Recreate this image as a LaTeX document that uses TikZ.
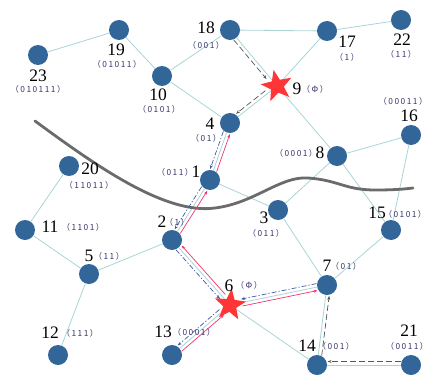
\documentclass[tikz,border=0pt]{standalone}
\usepackage{fontspec}
\setmainfont{Liberation Serif}
\newfontfamily\codefont[LetterSpace=18]{Noto Sans CJK SC}
\usetikzlibrary{shapes.geometric,calc,arrows.meta}
\definecolor{nodeblue}{HTML}{326598}
\definecolor{edgeteal}{HTML}{A9D4D6}
\definecolor{starred}{HTML}{FF3538}
\definecolor{codecol}{HTML}{35356A}
\definecolor{pinkflow}{HTML}{F5336E}
\definecolor{blueflow}{HTML}{3A5AA6}
\definecolor{grayflow}{HTML}{555555}
\tikzset{
  nd/.style={circle,fill=nodeblue,minimum size=20pt,inner sep=0pt},
  st/.style={star,star points=5,star point ratio=2.4,fill=starred,minimum size=33pt,inner sep=0pt},
  num/.style={font=\fontsize{17.5}{18}\selectfont,inner sep=0pt},
  code/.style={font=\codefont\fontsize{8.3}{9}\selectfont,text=codecol,inner sep=0pt},
  edge/.style={draw=edgeteal,line width=0.8pt},
  pinkarr/.style={draw=pinkflow,line width=0.7pt,-{Stealth[length=4pt,width=3pt]}},
  bluearr/.style={draw=blueflow,line width=0.7pt,dash pattern=on 5pt off 2pt on 1.2pt off 2pt,-{Stealth[length=4pt,width=3pt]}},
  grayarr/.style={draw=grayflow,line width=0.7pt,dash pattern=on 6pt off 3pt,-{Stealth[length=4pt,width=3pt]}},
  cut/.style={draw=black!58,line width=2.8pt,line cap=round}
}
\newcommand\flow[5]{\draw[#1,shorten <=#4,shorten >=#5] ($(#2)!3.5pt!-90:(#3)$) -- ($(#3)!3.5pt!90:(#2)$);}
\begin{document}
\begin{tikzpicture}[x=1pt,y=-1pt]
\useasboundingbox (0,0) rectangle (427,374);
% nodes
\node[nd] (n23) at (38,55) {};
\node[nd] (n19) at (119,30) {};
\node[nd] (n10) at (162,76) {};
\node[nd] (n18) at (230,30) {};
\node[nd] (n17) at (327,31) {};
\node[nd] (n22) at (401,20) {};
\node[st,rotate=12] (n9) at (277,86) {};
\node[nd] (n4) at (230,123) {};
\node[nd] (n16) at (411,135) {};
\node[nd] (n8) at (337,156) {};
\node[nd] (n20) at (69,166) {};
\node[nd] (n1) at (210,180) {};
\node[nd] (n3) at (278,210) {};
\node[nd] (n15) at (391,230) {};
\node[nd] (n11) at (25,230) {};
\node[nd] (n2) at (172,240) {};
\node[nd] (n5) at (89,274) {};
\node[nd] (n7) at (327,285) {};
\node[st,rotate=-6] (n6) at (230,305) {};
\node[nd] (n12) at (58,355) {};
\node[nd] (n13) at (172,355) {};
\node[nd] (n14) at (317,365) {};
\node[nd] (n21) at (411,365) {};
% edges
\foreach \a/\b in {n23/n19,n19/n10,n10/n18,n10/n4,n18/n17,n18/n9,n17/n22,n17/n9,n9/n4,n9/n8,n8/n16,n8/n3,n8/n15,n16/n15,n4/n1,n1/n2,n1/n3,n3/n7,n15/n7,n20/n11,n11/n5,n5/n2,n5/n12,n2/n6,n6/n7,n6/n13,n6/n14,n14/n7,n14/n21}
  \draw[edge] (\a) -- (\b);
% cut line
\draw[cut] (35,121) .. controls (95,165) and (165,215) .. (215,208)
  .. controls (255,203) and (280,176) .. (308,178)
  .. controls (338,180) and (345,190) .. (375,190)
  .. controls (395,190) and (405,189) .. (413,188);
% flows
\flow{pinkarr}{n13}{n6}{10pt}{11pt}
\flow{pinkarr}{n6}{n2}{11pt}{10.5pt}
\flow{pinkarr}{n2}{n1}{10pt}{10.5pt}
\flow{pinkarr}{n1}{n4}{10pt}{10.5pt}
\flow{pinkarr}{n6}{n7}{12pt}{10.5pt}
\flow{bluearr}{n4}{n1}{10pt}{10.5pt}
\flow{bluearr}{n1}{n2}{10pt}{10.5pt}
\flow{bluearr}{n2}{n6}{10pt}{11pt}
\flow{bluearr}{n6}{n13}{11pt}{10.5pt}
\flow{bluearr}{n7}{n6}{10pt}{12pt}
\flow{grayarr}{n18}{n9}{10pt}{12pt}
\flow{grayarr}{n9}{n4}{12pt}{10.5pt}
\flow{grayarr}{n21}{n14}{10pt}{10.5pt}
\flow{grayarr}{n14}{n7}{10pt}{10.5pt}
% labels
\node[num] (l23) at (38,76) {23};  \node[code] (c23) at (38,89) {（010111）};
\node[num] (l19) at (116,50) {19}; \node[code] (c19) at (117,64) {（01011）};
\node[num] (l10) at (158,95) {10}; \node[code] (c10) at (159,109) {（0101）};
\node[num] (l18) at (206,28) {18}; \node[code] (c18) at (206,45) {（001）};
\node[num] (l17) at (347,42) {17}; \node[code] (c17) at (347,57) {（1）};
\node[num] (l22) at (402,40) {22}; \node[code] (c22) at (401,54) {（11）};
\node[num] (l9) at (297,89) {9};   \node[code] (c9) at (315,89) {（Φ）};
\node[num] (l4) at (210,124) {4};  \node[code] (c4) at (206,138) {（01）};
\node[num] (l16) at (409,116) {16}; \node[code] (c16) at (403,101) {（00011）};
\node[num] (l8) at (320,153) {8};  \node[code] (c8) at (296,153) {（0001）};
\node[num] (l20) at (90,169) {20}; \node[code] (c20) at (89,185) {（11011）};
\node[num] (l1) at (196,172) {1};  \node[code] (c1) at (175,172) {（011）};
\node[num] (l3) at (264,218) {3};  \node[code] (c3) at (266,233) {（011）};
\node[num] (l15) at (377,213) {15}; \node[code] (c15) at (405,214) {（0101）};
\node[num] (l11) at (50,227) {11}; \node[code] (c11) at (83,227) {（1101）};
\node[num] (l2) at (162,222) {2};  \node[code] (c2) at (177,222) {（1）};
\node[num] (l5) at (89,256) {5};   \node[code] (c5) at (109,256) {（11）};
\node[num] (l12) at (50,333) {12}; \node[code] (c12) at (80,333) {（111）};
\node[num] (l13) at (163,332) {13}; \node[code] (c13) at (194,332) {（0001）};
\node[num] (l6) at (229,286) {6};  \node[code] (c6) at (249,285) {（Φ）};
\node[num] (l7) at (327,266) {7};  \node[code] (c7) at (346,266) {（01）};
\node[num] (l14) at (307,346) {14}; \node[code] (c14) at (336,346) {（001）};
\node[num] (l21) at (409,331) {21}; \node[code] (c21) at (407,346) {（0011）};
\end{tikzpicture}
\end{document}
